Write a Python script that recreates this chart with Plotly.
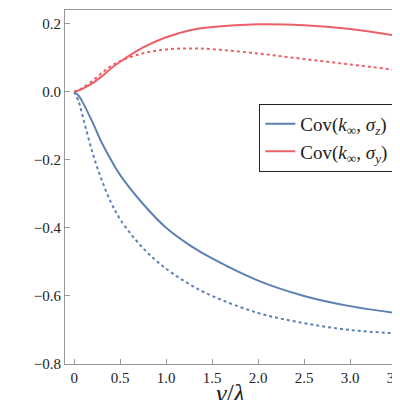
import plotly.graph_objects as go

x = [0, 0.05, 0.1, 0.2, 0.3, 0.4, 0.5, 0.75, 1.0, 1.25, 1.5, 2.0, 2.5, 3.0, 3.5]
blue_solid = [0, -0.012, -0.035, -0.09, -0.15, -0.20, -0.245, -0.33, -0.40, -0.45, -0.49, -0.555, -0.60, -0.63, -0.65]
blue_dot = [0, -0.03, -0.08, -0.18, -0.26, -0.325, -0.375, -0.46, -0.52, -0.565, -0.60, -0.65, -0.68, -0.70, -0.71]
red_solid = [0, 0.004, 0.01, 0.025, 0.045, 0.068, 0.088, 0.13, 0.16, 0.18, 0.19, 0.198, 0.195, 0.184, 0.165]
red_dot = [0, 0.005, 0.013, 0.032, 0.055, 0.075, 0.09, 0.113, 0.124, 0.127, 0.125, 0.112, 0.096, 0.08, 0.064]

x_ticks = [0, 0.5, 1.0, 1.5, 2.0, 2.5, 3.0, 3.5]
x_labels = ["0", "0.5", "1.0", "1.5", "2.0", "2.5", "3.0", "3.5"]

blue = "#5E81B5"
red = "#EB6066"

fig = go.Figure()
fig.add_trace(go.Scatter(x=x, y=blue_solid, mode="lines", line=dict(color=blue, width=2, shape="spline"),
                         name="Cov(<i>k</i><sub>∞</sub>, <i>σ<sub>z</sub></i>)"))
fig.add_trace(go.Scatter(x=x, y=red_solid, mode="lines", line=dict(color=red, width=2, shape="spline"),
                         name="Cov(<i>k</i><sub>∞</sub>, <i>σ<sub>y</sub></i>)"))
fig.add_trace(go.Scatter(x=x, y=blue_dot, mode="lines", line=dict(color=blue, width=2, dash="dot", shape="spline"),
                         showlegend=False))
fig.add_trace(go.Scatter(x=x, y=red_dot, mode="lines", line=dict(color=red, width=2, dash="dot", shape="spline"),
                         showlegend=False))

axis = dict(showgrid=False, zeroline=False, showline=True, mirror=True, linecolor="#999",
            ticks="inside", tickcolor="#999", ticklen=5, tickfont=dict(size=15, color="#222"),
            automargin=False)
fig.update_xaxes(axis, range=[-0.1, 3.5], tickvals=x_ticks, ticktext=x_labels,
                 title=dict(text="<i>γ</i>/<i>λ</i>", font=dict(size=26, color="#222"), standoff=2))
fig.update_yaxes(axis, range=[-0.8, 0.24], dtick=0.2, tickformat=".1f")
fig.update_layout(
    width=400, height=400, template="none",
    font=dict(family="Liberation Serif", color="#222"),
    margin=dict(l=57, r=12, t=2, b=44),
    plot_bgcolor="white", paper_bgcolor="white",
    legend=dict(x=0.995, y=0.735, xanchor="right", yanchor="top", bordercolor="#222", borderwidth=1,
                font=dict(size=19), bgcolor="white", tracegroupgap=8),
)
fig.write_html("out.html")
